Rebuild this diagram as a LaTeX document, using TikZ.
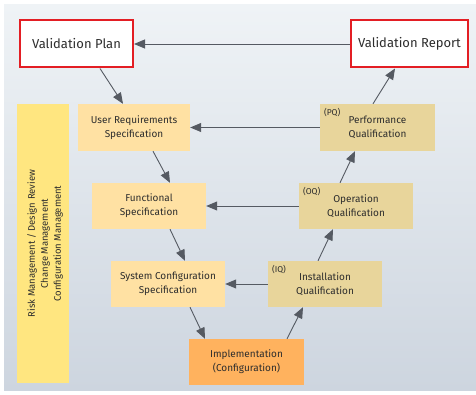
\documentclass[tikz,border=0pt]{standalone}
\usepackage{fontspec}
\setmainfont{Fira Sans}
\definecolor{paneltop}{RGB}{239, 243, 246}
\definecolor{panelbottom}{RGB}{205, 213, 223}
\definecolor{frame}{RGB}{227, 30, 36}
\definecolor{spec}{RGB}{255, 225, 163}
\definecolor{qual}{RGB}{232, 213, 155}
\definecolor{impl}{RGB}{255, 178, 94}
\definecolor{side}{RGB}{255, 230, 128}
\definecolor{ink}{RGB}{45, 45, 45}
\definecolor{wire}{RGB}{85, 90, 98}
\usetikzlibrary{arrows.meta, positioning}

\begin{document}
\begin{tikzpicture}[x=1pt, y=1pt,
    every node/.style={text=ink, align=center, inner sep=0pt},
    docbox/.style={draw=frame, line width=2pt, fill=white, minimum width=113pt, minimum height=47pt, font=\fontsize{13}{15}\selectfont},
    stage/.style={minimum width=114pt, minimum height=46pt, font=\fontsize{10}{14}\selectfont},
    specbox/.style={stage, fill=spec},
    qualbox/.style={stage, fill=qual},
    tag/.style={font=\fontsize{8.5}{9}\selectfont, anchor=north west},
    arr/.style={draw=wire, line width=0.9pt, -{Triangle[length=11pt, width=9pt]}},
]
\useasboundingbox (0,0) rectangle (476,394);
\shade[top color=paneltop, bottom color=panelbottom] (4,4) rectangle (476,389);

% documents
\node[docbox] (plan) at (76.5,350) {Validation Plan};
\node[docbox, minimum width=117pt] (report) at (409.5,350) {Validation Report};

% left leg
\node[specbox, minimum width=112pt, minimum height=47pt] (urs) at (134,266.5) {User Requirements\\Specification};
\node[specbox] (fs) at (149,188) {Functional\\Specification};
\node[specbox] (sc) at (168,110) {System Configuration\\Specification};
\node[stage, fill=impl, minimum width=115pt] (impl) at (246.5,32) {Implementation\\(Configuration)};

% right leg
\node[qualbox] (iq) at (325,110) {Installation\\Qualification};
\node[qualbox] (oq) at (356,188) {Operation\\Qualification};
\node[qualbox, minimum width=115pt, minimum height=47pt] (pq) at (377.5,266.5) {Performance\\Qualification};
\node[tag] (iqtag) at ([xshift=4pt, yshift=-4pt]iq.north west) {(IQ)};
\node[tag] (oqtag) at ([xshift=4pt, yshift=-4pt]oq.north west) {(OQ)};
\node[tag] (pqtag) at ([xshift=4pt, yshift=-4pt]pq.north west) {(PQ)};

% supporting processes
\node[fill=side, minimum width=52pt, minimum height=279pt] (support) at (43,150.5) {};
\node[rotate=90, font=\fontsize{9.5}{13}\selectfont] (supporttext) at (45,150.5) {Risk Management / Design Review\\Change Management\\Configuration Management};

% V flow
\draw[arr] ([xshift=23.5pt]plan.south) -- ([xshift=-11pt]urs.north);
\draw[arr] ([xshift=19pt]urs.south) -- ([xshift=21pt]fs.north);
\draw[arr] ([xshift=21pt]fs.south) -- ([xshift=17pt]sc.north);
\draw[arr] ([xshift=22pt]sc.south) -- ([xshift=-41.5pt]impl.north);
\draw[arr] ([xshift=40.5pt]impl.north) -- ([xshift=-22pt]iq.south);
\draw[arr] ([xshift=-7pt]iq.north) -- ([xshift=-23pt]oq.south);
\draw[arr] ([xshift=-16pt]oq.north) -- ([xshift=-22.5pt]pq.south);
\draw[arr] ([xshift=-4.5pt]pq.north) -- ([xshift=-14.5pt]report.south);

% verification links
\draw[arr] (report.west) -- (plan.east);
\draw[arr] (pq.west) -- (urs.east);
\draw[arr] (oq.west) -- (fs.east);
\draw[arr] (iq.west) -- (sc.east);
\end{tikzpicture}
\end{document}
